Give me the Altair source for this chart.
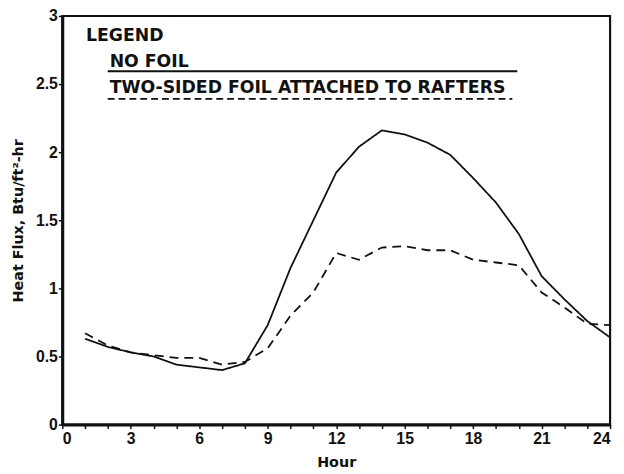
import altair as alt
import pandas as pd

hours = list(range(1, 25))
no_foil = [0.63, 0.57, 0.53, 0.50, 0.44, 0.42, 0.40, 0.45, 0.73, 1.15, 1.50, 1.85,
           2.04, 2.16, 2.13, 2.07, 1.98, 1.81, 1.63, 1.40, 1.09, 0.92, 0.76, 0.64]
two_sided = [0.67, 0.58, 0.53, 0.51, 0.49, 0.49, 0.44, 0.46, 0.56, 0.80, 0.97, 1.26,
             1.21, 1.30, 1.31, 1.28, 1.28, 1.21, 1.19, 1.17, 0.97, 0.86, 0.74, 0.73]
series_names = ["NO FOIL", "TWO-SIDED FOIL ATTACHED TO RAFTERS"]
x_ticks = list(range(0, 25))
y_ticks = [0, 0.5, 1, 1.5, 2, 2.5, 3]

df = pd.DataFrame({
    "hour": hours * 2,
    "flux": no_foil + two_sided,
    "series": [series_names[0]] * len(hours) + [series_names[1]] * len(hours),
})

FONT = "Liberation Sans"
LFONT = "DejaVu Sans"

lines = alt.Chart(df).mark_line(color="#111", strokeWidth=1.8).encode(
    x=alt.X("hour:Q", scale=alt.Scale(domain=[0, 24], nice=False),
            axis=alt.Axis(values=x_ticks, title="Hour",
                          labelExpr="datum.value % 3 == 0 ? datum.label : ''")),
    y=alt.Y("flux:Q", scale=alt.Scale(domain=[0, 3], nice=False),
            axis=alt.Axis(values=y_ticks, format="~g", title="Heat Flux, Btu/ft²-hr",
                          titleX=-37)),
    strokeDash=alt.StrokeDash("series:N",
                              scale=alt.Scale(domain=series_names, range=[[1, 0], [9, 6]]),
                              legend=None),
)

def legend_text(label, x, y):
    return alt.Chart(pd.DataFrame({"t": [label]})).mark_text(
        font=LFONT, fontWeight="bold", fontSize=17.5, align="left", baseline="middle",
        color="#111"
    ).encode(text="t:N", x=alt.value(x), y=alt.value(y))

leg_solid = alt.Chart(pd.DataFrame({"s": [series_names[0]]})).mark_rule(
    color="#111", strokeWidth=2.2).encode(x=alt.value(46), x2=alt.value(461), y=alt.value(56))
leg_dash = alt.Chart(pd.DataFrame({"s": [series_names[1]]})).mark_rule(
    color="#111", strokeWidth=1.6, strokeDash=[7, 4]).encode(x=alt.value(46), x2=alt.value(456), y=alt.value(84))

chart = alt.layer(
    lines,
    legend_text("LEGEND", 24, 20),
    legend_text(series_names[0], 48, 47),
    legend_text(series_names[1], 48, 73),
    leg_solid,
    leg_dash,
).properties(
    width=555, height=414,
    autosize=alt.AutoSizeParams(type="none"),
    padding={"left": 55, "top": 5, "right": 6, "bottom": 47},
).configure_view(
    stroke="#111", strokeWidth=2.2
).configure_axis(
    domainColor="#111", domainWidth=3, tickColor="#111", tickSize=4, tickWidth=1.5,
    grid=False, labelFont=FONT, labelFontWeight="bold", labelFontSize=16, labelColor="#111",
    titleFont=LFONT, titleFontWeight="bold", titleFontSize=14.5, titleColor="#111",
).configure_axisX(
    labelPadding=2, titlePadding=9,
).configure_axisY(
    labelPadding=1,
)

chart.save("out.html", embed_options={"renderer": "svg", "actions": False})
